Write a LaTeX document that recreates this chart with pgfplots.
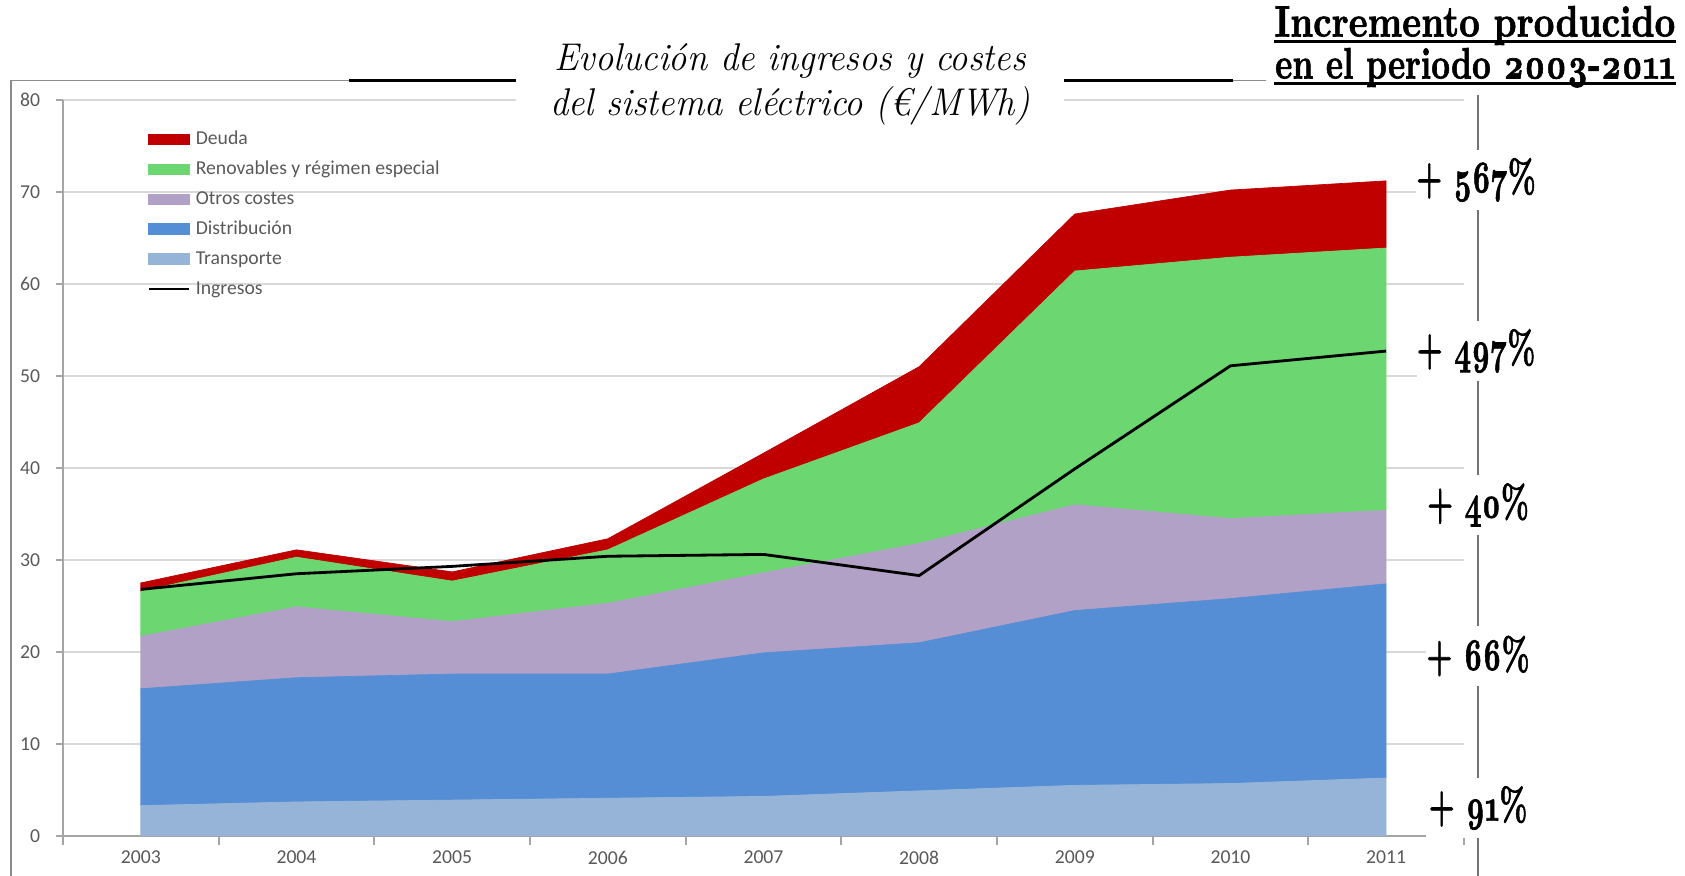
\documentclass[border=0pt]{standalone}
\usepackage{fontspec}
\usepackage{graphicx}
\usepackage{pgfplots}
\usepackage{pgfplotstable}
\pgfplotsset{compat=1.18}

\newfontfamily\carlito{Carlito}
\newfontfamily\hvy{lmroman10-bold.otf}[FakeBold=1.6, Numbers=OldStyle]

\definecolor{deuda}{RGB}{192,0,0}
\definecolor{renov}{RGB}{108,214,112}
\definecolor{otros}{RGB}{178,161,199}
\definecolor{distrib}{RGB}{85,142,213}
\definecolor{transp}{RGB}{150,180,215}
\definecolor{ticktext}{RGB}{89,89,89}
\definecolor{gridc}{RGB}{217,217,217}
\definecolor{axisc}{RGB}{165,165,165}
\definecolor{framec}{RGB}{140,140,140}

\pgfplotstableread{
x Transporte Distribucion Otros Renovables Deuda Ingresos
0 3.3 12.7 5.7 4.9 0.9 26.8
1 3.7 13.5 7.7 5.4 0.8 28.5
2 3.9 13.7 5.7 4.4 1.0 29.3
3 4.1 13.5 7.7 5.8 1.2 30.4
4 4.3 15.6 8.7 10.2 2.8 30.6
5 4.9 16.1 10.8 13.1 6.1 28.3
6 5.5 19.0 11.5 25.4 6.2 39.9
7 5.7 20.1 8.7 28.4 7.3 51.1
8 6.3 21.1 8.0 28.5 7.3 52.7
}\costes

\pgfplotsset{
  base/.style={
    at={(0.63cm,0.40cm)}, anchor=south west,
    scale only axis, width=14.01cm, height=7.361cm,
    xmin=-0.5, xmax=8.5, ymin=0, ymax=80,
  },
}

\begin{document}
\begin{tikzpicture}
\useasboundingbox (0,0) rectangle (16.85,8.76);

% frame of the pasted chart
\draw[framec, line width=0.5pt] (0.107,0) -- (0.107,7.954) -- (3.49,7.954);
\draw[framec, line width=0.5pt] (12.33,7.954) -- (12.66,7.954);

\begin{axis}[
  base,
  xtick={0,...,8},
  xticklabels={2003,2004,2005,2006,2007,2008,2009,2010,2011},
  minor xtick={-0.5,0.5,...,8.5},
  ytick={0,10,...,80},
  stack plots=y,
  axis x line*=bottom, axis y line*=left,
  axis line style={axisc, line width=0.6pt},
  ymajorgrids, grid style={gridc, line width=0.6pt},
  tick align=outside,
  major tick length=2pt, minor tick length=2.5pt,
  tick style={axisc, line width=0.5pt},
  major x tick style={draw=none},
  ticklabel style={font=\carlito\fontsize{5.6}{6.5}\selectfont, text=ticktext},
  yticklabel style={xshift=-1pt},
  xticklabel style={yshift=1.2pt},
  /pgf/number format/assume math mode=true,
]
\addplot[fill=transp, draw=transp, line width=0.2pt] table[x=x, y=Transporte] {\costes} \closedcycle;
\addplot[fill=distrib, draw=distrib, line width=0.2pt] table[x=x, y=Distribucion] {\costes} \closedcycle;
\addplot[fill=otros, draw=otros, line width=0.2pt] table[x=x, y=Otros] {\costes} \closedcycle;
\addplot[fill=renov, draw=renov, line width=0.2pt] table[x=x, y=Renovables] {\costes} \closedcycle;
\addplot[fill=deuda, draw=deuda, line width=0.2pt] table[x=x, y=Deuda] {\costes} \closedcycle;
\end{axis}

\begin{axis}[
  base,
  hide axis,
  legend cell align=left,
  legend style={at={(0.06,0.959)}, anchor=north west, draw=none, fill=none,
    font=\carlito\fontsize{5.6}{6.5}\selectfont, text=ticktext,
    inner sep=0pt, row sep=3.5pt, column sep=1.5pt,
    nodes={inner sep=0pt, text height=4pt, text depth=1pt}},
  legend image code/.code={\draw[#1] (0cm,0cm) -- (0.4cm,0cm);},
]
\addlegendimage{legend image code/.code={\fill[deuda] (0cm,-0.05cm) rectangle (0.4cm,0.05cm);}}
\addlegendentry{Deuda}
\addlegendimage{legend image code/.code={\fill[renov] (0cm,-0.05cm) rectangle (0.4cm,0.05cm);}}
\addlegendentry{Renovables y régimen especial}
\addlegendimage{legend image code/.code={\fill[otros] (0cm,-0.05cm) rectangle (0.4cm,0.05cm);}}
\addlegendentry{Otros costes}
\addlegendimage{legend image code/.code={\fill[distrib] (0cm,-0.05cm) rectangle (0.4cm,0.05cm);}}
\addlegendentry{Distribución}
\addlegendimage{legend image code/.code={\fill[transp] (0cm,-0.05cm) rectangle (0.4cm,0.05cm);}}
\addlegendentry{Transporte}
\addplot[black, line width=0.8pt] table[x=x, y=Ingresos] {\costes};
\addlegendentry{Ingresos}
\end{axis}

% title box
\fill[white] (5.16,7.45) rectangle (10.64,8.76);
\draw[black, line width=0.8pt] (3.49,7.954) -- (5.16,7.954);
\draw[black, line width=0.8pt] (10.64,7.954) -- (12.33,7.954);
\node[anchor=base, font=\fontsize{11}{13}\selectfont\itshape] at (7.90,8.05)
  {\scalebox{0.945}[1]{Evolución de ingresos y costes}};
\node[anchor=base, font=\fontsize{11}{13}\selectfont\itshape] at (7.90,7.60)
  {\scalebox{0.945}[1]{del sistema eléctrico (€/MWh)}};

% header on the right
\node[anchor=base east, inner sep=0pt, font=\fontsize{12.5}{14}\hvy] (h1) at (16.76,8.395)
  {\scalebox{0.82}[1]{Incremento producido}};
\node[anchor=base east, inner sep=0pt, font=\fontsize{12.5}{14}\hvy] (h2) at (16.76,7.975)
  {\scalebox{0.745}[1]{en el periodo 2003-2011}};
\draw[black, line width=0.7pt] ([yshift=-0.05cm]h1.base west) -- ([yshift=-0.05cm]h1.base east);
\draw[black, line width=0.7pt] ([yshift=-0.05cm]h2.base west) -- ([yshift=-0.05cm]h2.base east);

% vertical separator with the increments
\draw[black!55, line width=0.4pt] (14.78,7.81) -- (14.78,0);
\tikzset{pct/.style={fill=white, inner sep=0pt, minimum height=0.60cm, minimum width=1.05cm,
  font=\fontsize{13}{15}\hvy}}
\node[pct] at (14.76,6.96) {\scalebox{0.64}[1]{+ 567\%}};
\node[pct] at (14.76,5.25) {\scalebox{0.64}[1]{+ 497\%}};
\node[pct] at (14.78,3.71) {\scalebox{0.64}[1]{+ 40\%}};
\node[pct] at (14.78,2.20) {\scalebox{0.64}[1]{+ 66\%}};
\node[pct] at (14.78,0.68) {\scalebox{0.64}[1]{+ 91\%}};
\end{tikzpicture}
\end{document}
